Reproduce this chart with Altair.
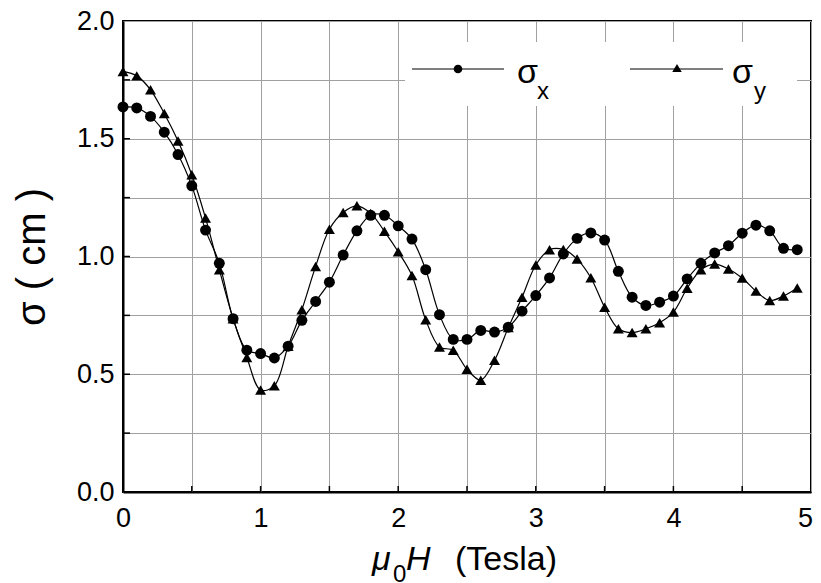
import altair as alt
import pandas as pd

# ---- data ----
field_T = [0.0, 0.1, 0.2, 0.3, 0.4, 0.5, 0.6, 0.7, 0.8, 0.9,
           1.0, 1.1, 1.2, 1.3, 1.4, 1.5, 1.6, 1.7, 1.8, 1.9,
           2.0, 2.1, 2.2, 2.3, 2.4, 2.5, 2.6, 2.7, 2.8, 2.9,
           3.0, 3.1, 3.2, 3.3, 3.4, 3.5, 3.6, 3.7, 3.8, 3.9,
           4.0, 4.1, 4.2, 4.3, 4.4, 4.5, 4.6, 4.7, 4.8, 4.9]
sigma_x = [1.635, 1.631, 1.595, 1.528, 1.433, 1.300, 1.112, 0.971, 0.736, 0.602,
           0.588, 0.569, 0.619, 0.729, 0.809, 0.891, 1.006, 1.109, 1.175, 1.175,
           1.130, 1.074, 0.944, 0.753, 0.648, 0.648, 0.686, 0.679, 0.700, 0.768,
           0.834, 0.909, 1.011, 1.077, 1.100, 1.070, 0.937, 0.827, 0.792, 0.806,
           0.832, 0.905, 0.971, 1.015, 1.046, 1.099, 1.133, 1.109, 1.035, 1.029]
sigma_y = [1.786, 1.767, 1.708, 1.607, 1.490, 1.347, 1.163, 0.944, 0.736, 0.571,
           0.433, 0.451, 0.619, 0.774, 0.958, 1.116, 1.187, 1.215, 1.183, 1.107,
           1.020, 0.919, 0.731, 0.616, 0.602, 0.521, 0.475, 0.559, 0.698, 0.827,
           0.964, 1.029, 1.030, 0.989, 0.910, 0.785, 0.693, 0.677, 0.693, 0.719,
           0.764, 0.865, 0.944, 0.968, 0.947, 0.909, 0.853, 0.813, 0.832, 0.866]
series_names = ["sx", "sy"]

x_grid = [0, 0.5, 1, 1.5, 2, 2.5, 3, 3.5, 4, 4.5, 5]
y_grid = [0, 0.25, 0.5, 0.75, 1.0, 1.25, 1.5, 1.75, 2.0]
x_ticks = [0.5, 1, 1.5, 2, 2.5, 3, 3.5, 4, 4.5]
y_ticks = [0.25, 0.5, 0.75, 1.0, 1.25, 1.5, 1.75]
x_last_label = "5"

rows = []
for h, a, b in zip(field_T, sigma_x, sigma_y):
    rows.append({"H": h, "sigma": a, "series": series_names[0]})
    rows.append({"H": h, "sigma": b, "series": series_names[1]})
df = pd.DataFrame(rows)

W, H = 688, 471
FONT = "Liberation Sans"

xs = alt.Scale(domain=[0, 5], nice=False, zero=False)
ys = alt.Scale(domain=[0, 2], nice=False, zero=False)

xaxis = alt.Axis(values=x_grid, title=None, ticks=False, grid=True,
                 gridColor="#a0a0a0", gridWidth=1,
                 domainColor="black", domainWidth=2,
                 labelExpr="(datum.value % 1 === 0 && datum.value < 5) ? format(datum.value, 'd') : ''",
                 labelFont=FONT, labelFontSize=27, labelColor="black",
                 labelPadding=13, labelFlush=False, labelOverlap=False, labelBound=False)
yaxis = alt.Axis(values=y_grid, title="σ ( cm )", ticks=False, grid=True,
                 gridColor="#a0a0a0", gridWidth=1,
                 domainColor="black", domainWidth=2,
                 labelExpr="(datum.value * 2) % 1 === 0 ? format(datum.value, '.1f') : ''",
                 labelFont=FONT, labelFontSize=27, labelColor="black",
                 labelPadding=9, labelFlush=False, labelOverlap=False, labelBound=False,
                 titleFont=FONT, titleFontSize=40, titleFontWeight="normal",
                 titleColor="black", titleX=-91, titleY=H / 2, titleAngle=270,
                 titleAlign="center", titleBaseline="middle")

base = alt.Chart(df)

lines = base.mark_line(interpolate="catmull-rom", color="black", strokeWidth=1.2).encode(
    x=alt.X("H:Q", scale=xs, axis=xaxis),
    y=alt.Y("sigma:Q", scale=ys, axis=yaxis),
    detail="series:N",
)
points = base.mark_point(filled=True, color="black", opacity=1, size=120).encode(
    x=alt.X("H:Q", scale=xs, axis=xaxis),
    y=alt.Y("sigma:Q", scale=ys, axis=yaxis),
    shape=alt.Shape("series:N", scale=alt.Scale(domain=series_names,
                                                range=["circle", "triangle-up"]),
                    legend=None),
)

xt = pd.DataFrame({"t": x_ticks})
yt = pd.DataFrame({"t": y_ticks})
xtick_marks = alt.Chart(xt).mark_rule(color="black", strokeWidth=1.5).encode(
    x=alt.X("t:Q", scale=xs, axis=xaxis), y=alt.value(H), y2=alt.value(H - 6))
ytick_marks = alt.Chart(yt).mark_rule(color="black", strokeWidth=1.5).encode(
    y=alt.Y("t:Q", scale=ys, axis=yaxis), x=alt.value(0), x2=alt.value(7))

one = alt.Data(values=[{}])

legend_box = alt.Chart(one).mark_rect(color="white").encode(
    x=alt.value(282), x2=alt.value(674), y=alt.value(21), y2=alt.value(85))
leg_l1 = alt.Chart(one).mark_rule(color="black", strokeWidth=1.2).encode(
    x=alt.value(289), x2=alt.value(381), y=alt.value(48))
leg_l2 = alt.Chart(one).mark_rule(color="black", strokeWidth=1.2).encode(
    x=alt.value(507), x2=alt.value(600), y=alt.value(48))
leg_p1 = alt.Chart(one).mark_point(shape="circle", filled=True, color="black",
                                   opacity=1, size=75).encode(
    x=alt.value(335), y=alt.value(48))
leg_p2 = alt.Chart(one).mark_point(shape="triangle-up", filled=True, color="black",
                                   opacity=1, size=90).encode(
    x=alt.value(554), y=alt.value(47))


def txt(s, x, y, size, style="normal", align="left"):
    return alt.Chart(one).mark_text(align=align, baseline="alphabetic", font=FONT,
                                    fontSize=size, fontStyle=style,
                                    color="black").encode(
        x=alt.value(x), y=alt.value(y), text=alt.value(s))


leg_t = [txt("σ", 394, 62, 34), txt("x", 414, 78, 24),
         txt("σ", 609, 62, 34), txt("y", 631, 78, 24)]
xtitle = [txt("μ", 249, 549, 34, "italic"), txt("0", 270, 561, 24),
          txt("H", 283, 549, 34, "italic"), txt("(Tesla)", 332, 549, 34)]
last_lbl = txt(x_last_label, W + 2, 506, 27, align="right")

chart = alt.layer(lines, points, xtick_marks, ytick_marks, legend_box,
                  leg_l1, leg_l2, leg_p1, leg_p2, *leg_t, *xtitle, last_lbl).properties(
    width=W, height=H,
    padding={"left": 115, "top": 13, "right": 2, "bottom": 91},
    autosize=alt.AutoSizeParams(type="none"),
).configure_view(stroke="black", strokeWidth=2)

chart.save("out.html", embed_options={"renderer": "svg", "actions": False})
